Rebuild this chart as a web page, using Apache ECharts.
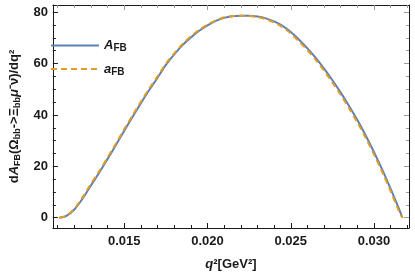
<!DOCTYPE html>
<html>
<head>
<meta charset="utf-8">
<script src="https://cdn.jsdelivr.net/npm/echarts@6/dist/echarts.min.js"></script>
<style>
html,body{margin:0;padding:0;background:#fff;}
#chart{width:415px;height:276px;}
</style>
</head>
<body>
<div id="chart"></div>
<script>
// q^2 values (GeV^2)
var q2 = [0.0111, 0.0115, 0.0120, 0.0125, 0.0130, 0.0135, 0.0140, 0.0145, 0.0150, 0.0155,
          0.0160, 0.0165, 0.0170, 0.0175, 0.0180, 0.0185, 0.0190, 0.0195, 0.0200, 0.0205,
          0.0210, 0.0215, 0.0220, 0.0225, 0.0230, 0.0235, 0.0240, 0.0245, 0.0250, 0.0255,
          0.0260, 0.0265, 0.0270, 0.0275, 0.0280, 0.0285, 0.0290, 0.0295, 0.0300, 0.0305,
          0.0310, 0.0315, 0.0317];
// A_FB (solid blue)
var AFB = [0.0, 0.6, 3.2, 7.5, 12.6, 17.6, 22.9, 28.3, 33.9, 39.3,
           44.6, 49.7, 54.5, 59.5, 63.6, 67.2, 70.2, 72.8, 74.9, 76.6,
           77.8, 78.4, 78.6, 78.6, 78.3, 77.6, 76.4, 74.7, 72.3, 69.3,
           65.9, 62.2, 58.0, 53.5, 48.7, 43.5, 38.0, 32.0, 25.5, 18.6,
           11.2, 3.4, 0.0];
// a_FB (dashed orange)
var aFB = [0.0, 0.7, 3.5, 8.0, 13.2, 18.2, 23.5, 28.9, 34.5, 39.9,
           45.2, 50.3, 55.0, 60.0, 64.0, 67.6, 70.6, 73.1, 75.2, 76.8,
           78.0, 78.5, 78.6, 78.5, 78.1, 77.3, 76.0, 74.2, 71.7, 68.6,
           65.2, 61.4, 57.2, 52.6, 47.8, 42.6, 37.1, 31.1, 24.6, 17.7,
           10.3, 2.5, 0.0];
var xMajor = [0.015, 0.020, 0.025, 0.030];
var xMinor = [0.011, 0.012, 0.013, 0.014, 0.016, 0.017, 0.018, 0.019, 0.021, 0.022, 0.023, 0.024,
              0.026, 0.027, 0.028, 0.029, 0.031, 0.032];
var yMajor = [0, 20, 40, 60, 80];
var yMinor = [5, 10, 15, 25, 30, 35, 45, 50, 55, 65, 70, 75];

var X_MIN = 0.01071, X_MAX = 0.0321, Y_MIN = -4, Y_MAX = 82.8;

function pairs(xs, ys){ return xs.map(function(x,i){ return [x, ys[i]]; }); }

var FONT = 'Liberation Sans, Arial, sans-serif';
var DARK = '#1a1a1a';
var GRAY = '#9a9a9a';

function xAx(pos, ticks, len, color, showLine, labels){
  return {
    type:'value', position:pos, min:X_MIN, max:X_MAX,
    axisLine:{show:showLine, onZero:false, lineStyle:{color:DARK, width:1}},
    axisTick:{show:true, inside:true, length:len, customValues:ticks, lineStyle:{color:color, width:1}},
    axisLabel: labels ? {show:true, customValues:ticks, margin:7, color:DARK, fontFamily:FONT, fontWeight:'bold', fontSize:13,
      formatter:function(v){return v.toFixed(3);}} : {show:false},
    splitLine:{show:false}
  };
}
function yAx(pos, ticks, len, color, showLine, labels){
  return {
    type:'value', position:pos, min:Y_MIN, max:Y_MAX,
    axisLine:{show:showLine, onZero:false, lineStyle:{color:DARK, width:1}},
    axisTick:{show:true, inside:true, length:len, customValues:ticks, lineStyle:{color:color, width:1}},
    axisLabel: labels ? {show:true, customValues:ticks, margin:5, color:DARK, fontFamily:FONT, fontWeight:'bold', fontSize:13} : {show:false},
    splitLine:{show:false}
  };
}

var xAxes = [
  xAx('bottom', xMajor, 5, DARK, true, true),
  xAx('bottom', xMinor, 3, DARK, false, false),
  xAx('top', xMajor, 5, GRAY, true, false),
  xAx('top', xMinor, 3, GRAY, false, false)
];
xAxes[0].name = '{i|q}{n|²[GeV²]}';
xAxes[0].nameLocation = 'middle';
xAxes[0].nameGap = 30;
xAxes[0].nameTextStyle = {
  rich:{
    i:{fontFamily:FONT, fontWeight:'bold', fontStyle:'italic', fontSize:13, color:DARK},
    n:{fontFamily:FONT, fontWeight:'bold', fontSize:13, color:DARK}
  }
};
var yAxes = [
  yAx('left', yMajor, 5, DARK, true, true),
  yAx('left', yMinor, 3, DARK, false, false),
  yAx('right', yMajor, 5, GRAY, true, false),
  yAx('right', yMinor, 3, GRAY, false, false)
];
yAxes[0].name = '{n|d}{i|A}{s|FB}{n|(Ω}{s|bb}{n|->Ξ}{s|bb}{i|μ}{n|⁻ν̄)/dq²}';
yAxes[0].nameLocation = 'middle';
yAxes[0].nameGap = 22;
yAxes[0].nameTextStyle = {
  rich:{
    n:{fontFamily:FONT, fontWeight:'bold', fontSize:13, color:DARK, lineHeight:16},
    i:{fontFamily:FONT, fontWeight:'bold', fontStyle:'italic', fontSize:13, color:DARK, lineHeight:16},
    s:{fontFamily:FONT, fontWeight:'bold', fontSize:9, color:DARK, lineHeight:12, verticalAlign:'bottom'}
  }
};

var chart = echarts.init(document.getElementById('chart'), null, {renderer:'canvas'});
chart.setOption({
  animation:false,
  backgroundColor:'#fff',
  grid:{left:43, right:6, top:5, bottom:47, containLabel:false},
  xAxis:xAxes,
  yAxis:yAxes,
  legend:{
    show:true, orient:'vertical', left:45, top:34, itemWidth:48, itemHeight:14, itemGap:9,
    data:['A_FB','a_FB'],
    itemStyle:{color:'rgba(0,0,0,0)', borderColor:'rgba(0,0,0,0)', borderWidth:0},
    formatter:function(n){ return n==='A_FB' ? '{i|A}{s|FB}' : '{i|a}{s|FB}'; },
    textStyle:{
      rich:{
        i:{fontFamily:FONT, fontWeight:'bold', fontStyle:'italic', fontSize:13, color:DARK, lineHeight:16},
        s:{fontFamily:FONT, fontWeight:'bold', fontSize:10, color:DARK, lineHeight:11, verticalAlign:'bottom'}
      }
    }
  },
  series:[
    {name:'A_FB', type:'line', xAxisIndex:0, yAxisIndex:0, data:pairs(q2, AFB), smooth:0.3,
     symbol:'none', lineStyle:{color:'#5E81B5', width:2}, itemStyle:{color:'#5E81B5'}, z:2},
    {name:'a_FB', type:'line', xAxisIndex:0, yAxisIndex:0, data:pairs(q2, aFB), smooth:0.3,
     symbol:'none', lineStyle:{color:'#E19C24', width:2, type:[6,4]}, itemStyle:{color:'#E19C24'}, z:3}
  ]
});
</script>
</body>
</html>
